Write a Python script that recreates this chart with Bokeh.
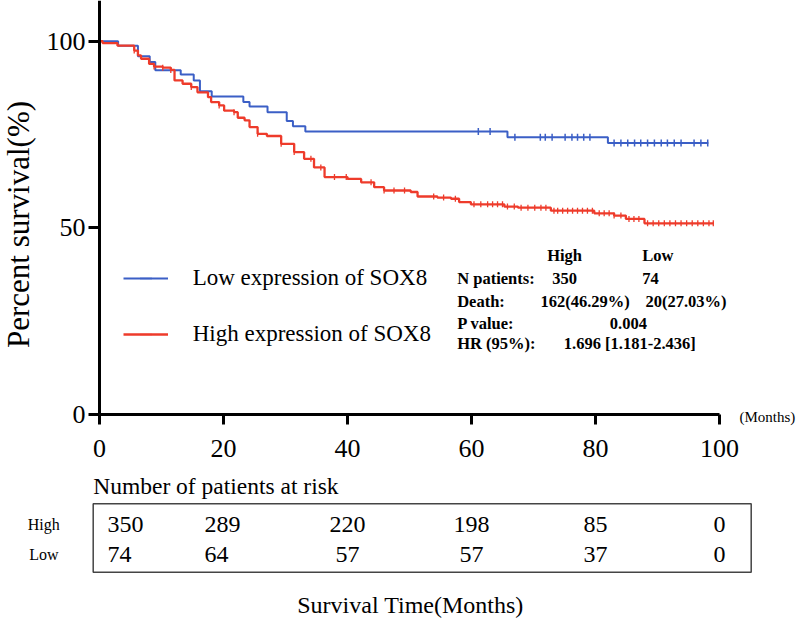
import numpy as np
from bokeh.plotting import figure
from bokeh.models import (Range1d, Legend, LegendItem, FixedTicker,
                          ColumnDataSource)
from bokeh.embed import file_html
from bokeh.resources import INLINE
from bokeh.core.properties import value

# ---------------- data ----------------
# Low expression of SOX8 (n=74): event times (months) and survival (%) after each step
low_t = [0, 3.0, 6.2, 8.1, 9.0, 13.1, 15.2, 16.2, 18.1, 23.2, 24.2, 27.1, 30.2,
         31.2, 33.2, 65.8, 82.0, 98.2]
low_s = [100, 98.8, 96.0, 94.4, 92.2, 91.1, 89.5, 86.6, 85.2, 83.7, 82.5, 81.0,
         78.6, 77.2, 75.8, 74.3, 72.7, 72.7]
low_censor = [61.1, 63.0, 67.0, 71.1, 71.9, 73.0, 75.1, 76.2, 77.1, 78.1, 79.1,
              83.0, 84.1, 85.2, 86.3, 87.3, 88.4, 89.5, 90.6, 91.6, 92.7, 93.8,
              95.9, 97.0, 98.1]

# High expression of SOX8 (n=350)
high_t = [0, 0.5, 2.9, 5.6, 6.2, 6.7, 8.0, 8.8, 10.2, 11.5, 12.1, 13.4, 14.8,
          15.8, 17.5, 18.0, 19.3, 20.1, 21.7, 22.3, 23.4, 24.2, 25.5, 27.0,
          29.3, 31.4, 33.0, 34.6, 36.3, 40.0, 42.2, 44.3, 45.9, 50.2, 51.3,
          54.5, 56.7, 58.0, 59.9, 65.3, 67.5, 72.8, 79.8, 83.0, 84.9, 87.9, 99.1]
high_s = [100, 99.5, 98.8, 97.5, 96.2, 95.3, 93.9, 93.2, 92.9, 92.3, 89.5, 88.6,
          87.7, 86.3, 85.0, 83.7, 82.8, 81.4, 81.0, 79.5, 78.8, 77.0, 75.2, 74.6,
          72.5, 70.3, 68.5, 66.2, 63.6, 63.1, 62.2, 60.9, 60.0, 59.6, 58.4,
          58.1, 57.8, 56.9, 56.3, 55.7, 55.4, 54.6, 53.9, 53.3, 52.4, 51.2, 51.2]
high_censor = [5.6, 8.8, 10.2, 11.5, 14.8, 19.3, 21.7, 25.5, 29.3, 31.4, 34.1,
               35.7, 37.9, 39.8, 43.8, 45.9, 47.5, 49.2, 53.9, 55.5, 57.4, 60.4,
               61.5, 62.6, 63.4, 64.2, 65.0, 65.8, 66.9, 68.0, 69.1, 70.2, 71.2,
               72.0, 73.3, 73.9, 74.7, 75.5, 76.3, 77.1, 77.9, 78.7, 79.5, 80.6,
               81.4, 82.2, 83.0, 84.1, 85.4, 86.2, 87.0, 88.4, 89.3, 90.2, 91.1,
               92.0, 92.9, 93.8, 94.7, 95.6, 96.5, 97.4, 98.3, 99.0]

x_ticks = [0, 20, 40, 60, 80, 100]
y_ticks = [0, 50, 100]

risk_times = [0, 20, 40, 60, 80, 100]
risk_high = [350, 289, 220, 198, 85, 0]
risk_low = [74, 64, 57, 57, 37, 0]
risk_groups = ["High", "Low"]

stat_header = ["High", "Low"]
stat_labels = ["N patients:", "Death:", "P value:", "HR (95%):"]
stat_n = ["350", "74"]
stat_death = ["162(46.29%)", "20(27.03%)"]
stat_p = "0.004"
stat_hr = "1.696 [1.181-2.436]"

legend_labels = ["Low expression of SOX8", "High expression of SOX8"]
y_title = "Percent survival(%)"
x_title = "Survival Time(Months)"
risk_title = "Number of patients at risk"
x_unit = "(Months)"

# ---------------- style / placement helpers ----------------
SERIF = "Liberation Serif"
BLUE = "#3b5fc6"
RED = "#ee3b2b"
W, H = 800, 618
PX_PER_MONTH = 6.2      # reference scale, used to place annotations
PX_PER_PCT = 3.733
X0_PX, Y0_PX = 99.0, 414.0


def tx(px):      # reference page x -> months
    return (px - X0_PX) / PX_PER_MONTH


def sy(py):      # reference page y -> percent
    return (Y0_PX - py) / PX_PER_PCT


def surv_at(ts, ss, cs):
    idx = np.searchsorted(np.array(ts), np.array(cs), side="right") - 1
    return list(np.array(ss)[idx])


# ---------------- figure ----------------
p = figure(width=W, height=H, x_range=Range1d(tx(0), tx(W)),
           y_range=Range1d(sy(H), sy(0)), toolbar_location=None,
           output_backend="svg", min_border=0)
p.grid.visible = False
p.outline_line_color = None
p.background_fill_color = "white"
p.border_fill_color = "white"

for ax in (p.xaxis[0], p.yaxis[0]):
    ax.fixed_location = 0
    ax.axis_line_width = 3
    ax.axis_line_color = "black"
    ax.major_tick_line_width = 3
    ax.major_tick_line_color = "black"
    ax.major_tick_in = 0
    ax.minor_tick_out = 0
    ax.minor_tick_in = 0
    ax.major_label_text_font = SERIF
    ax.major_label_text_font_size = "26px"
    ax.major_label_text_color = "black"

p.xaxis.ticker = FixedTicker(ticks=x_ticks)
p.xaxis.bounds = (0, 100)
p.xaxis.major_tick_out = 10
p.xaxis.major_label_standoff = 15
p.yaxis.ticker = FixedTicker(ticks=y_ticks)
p.yaxis.bounds = (0, sy(0))
p.yaxis.major_tick_out = 11
p.yaxis.major_label_standoff = 3

# y-axis title (placed as rotated text so it can sit where the reference has it)
p.text(x=[tx(18)], y=[sy(224)], text=[y_title], angle=np.pi / 2,
       text_font=value(SERIF), text_font_size="31px", text_color="black",
       text_baseline="middle", text_align="center")

r_low = p.step(low_t, low_s, mode="after", line_color=BLUE, line_width=2)
c_low = p.scatter(low_censor, surv_at(low_t, low_s, low_censor), marker="dash",
                  angle=np.pi / 2, size=7, line_color=BLUE, line_width=1.5)
r_high = p.step(high_t, high_s, mode="after", line_color=RED, line_width=2.3)
c_high = p.scatter(high_censor, surv_at(high_t, high_s, high_censor),
                   marker="dash", angle=np.pi / 2, size=6, line_color=RED,
                   line_width=1.3)

legend = Legend(items=[LegendItem(label=legend_labels[0], renderers=[r_low, c_low]),
                       LegendItem(label=legend_labels[1], renderers=[r_high, c_high])],
                location=(122.7, H - 349.3), padding=0, margin=0, spacing=26,
                glyph_width=45, glyph_height=30, label_height=30,
                label_standoff=25, label_text_font=SERIF,
                label_text_font_size="23px", label_text_color="black",
                border_line_color=None, background_fill_alpha=0)
p.add_layout(legend, "center")

# statistics block
stat_src = ColumnDataSource(dict(
    x=[tx(546.7), tx(641.7),
       tx(456.7), tx(456.7), tx(456.7), tx(456.7),
       tx(551.7), tx(641.7), tx(540.0), tx(645.0),
       tx(609.3), tx(563.3)],
    y=[sy(255), sy(255),
       sy(278), sy(301), sy(323), sy(343),
       sy(278), sy(278), sy(301), sy(301),
       sy(323), sy(343)],
    text=stat_header + stat_labels + stat_n + stat_death + [stat_p, stat_hr]))
p.text(x="x", y="y", text="text", source=stat_src, text_font=value(SERIF),
       text_font_style="bold", text_font_size="16.5px", text_color="black",
       text_baseline="middle", text_align="left")

p.text(x=[tx(739)], y=[sy(416.5)], text=[x_unit], text_font=value(SERIF),
       text_font_size="15px", text_color="black", text_baseline="middle",
       text_align="left")

# ---------------- at-risk table ----------------
p.text(x=[tx(92.7)], y=[sy(485)], text=[risk_title],
       text_font=value(SERIF), text_font_size="23.5px", text_color="black",
       text_baseline="middle", text_align="left")
p.quad(left=[tx(92.7)], right=[tx(750.7)], top=[sy(503.3)], bottom=[sy(571.7)],
       fill_color=None, line_color="#444444", line_width=1.5)

offsets = [8, -19, 0, 0, 0, 0]
aligns = ["left", "left", "center", "center", "center", "center"]
for vals, row_py in ((risk_high, 524), (risk_low, 554)):
    src = ColumnDataSource(dict(x=risk_times, y=[sy(row_py)] * len(vals),
                                text=[str(v) for v in vals],
                                xo=offsets, al=aligns))
    p.text(x="x", y="y", text="text", x_offset="xo", text_align="al",
           source=src, text_font=value(SERIF), text_font_size="24px",
           text_color="black", text_baseline="middle")

p.text(x=[tx(43.3)] * 2, y=[sy(524), sy(554)], text=risk_groups,
       text_font=value(SERIF), text_font_size="16px", text_color="black",
       text_baseline="middle", text_align="center")

p.text(x=[tx(410)], y=[sy(604)], text=[x_title],
       text_font=value(SERIF), text_font_size="24px", text_color="black",
       text_baseline="middle", text_align="center")

open("out.html", "w").write(file_html(p, INLINE))
